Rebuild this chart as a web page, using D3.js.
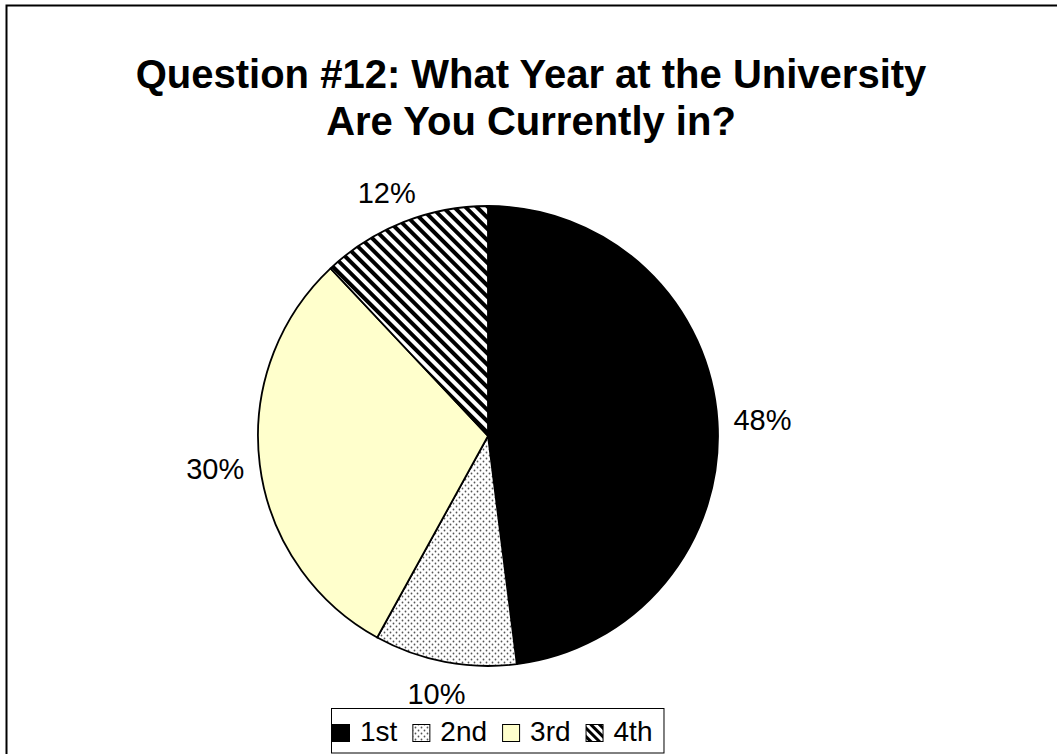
<!DOCTYPE html>
<html>
<head>
<meta charset="utf-8">
<script src="https://cdn.jsdelivr.net/npm/d3@7"></script>
<style>
  html, body { margin: 0; padding: 0; background: #fff; }
  svg { display: block; font-family: "Liberation Sans", Arial, sans-serif; }
</style>
</head>
<body>
<svg id="chart" width="1057" height="754"></svg>
<script>
// Survey responses: year at the university
const categories = ["1st", "2nd", "3rd", "4th"];
const values = [48, 10, 30, 12];
const labels = ["48%", "10%", "30%", "12%"];
const titleLines = ["Question #12: What Year at the University", "Are You Currently in?"];

const svg = d3.select("#chart");
const W = 1057, H = 754;

// Fill patterns
const defs = svg.append("defs");
const dots = defs.append("pattern")
  .attr("id", "dots").attr("patternUnits", "userSpaceOnUse")
  .attr("width", 6).attr("height", 6);
dots.append("rect").attr("width", 6).attr("height", 6).attr("fill", "#fff");
dots.append("circle").attr("cx", 1.5).attr("cy", 1.5).attr("r", 0.9).attr("fill", "#555");
dots.append("circle").attr("cx", 4.5).attr("cy", 4.5).attr("r", 0.9).attr("fill", "#555");

const stripes = defs.append("pattern")
  .attr("id", "stripes").attr("patternUnits", "userSpaceOnUse")
  .attr("width", 8).attr("height", 8)
  .attr("patternTransform", "rotate(-45)");
stripes.append("rect").attr("width", 8).attr("height", 8).attr("fill", "#fff");
stripes.append("rect").attr("width", 4).attr("height", 8).attr("fill", "#000");

const smallStripes = defs.append("pattern")
  .attr("id", "stripes-small").attr("patternUnits", "userSpaceOnUse")
  .attr("width", 6).attr("height", 6)
  .attr("patternTransform", "rotate(-45)");
smallStripes.append("rect").attr("width", 6).attr("height", 6).attr("fill", "#fff");
smallStripes.append("rect").attr("width", 3).attr("height", 6).attr("fill", "#000");

const fills = d3.scaleOrdinal()
  .domain(categories)
  .range(["#000000", "url(#dots)", "#FFFFCC", "url(#stripes)"]);
const legendFills = d3.scaleOrdinal()
  .domain(categories)
  .range(["#000000", "url(#dots)", "#FFFFCC", "url(#stripes-small)"]);

// Outer chart frame
svg.append("rect")
  .attr("x", 6.5).attr("y", 5.5)
  .attr("width", W + 10).attr("height", H + 10)
  .attr("fill", "#fff").attr("stroke", "#000").attr("stroke-width", 2);

// Title
svg.append("g").selectAll("text")
  .data(titleLines).join("text")
  .attr("x", 531).attr("y", (d, i) => 88 + i * 47)
  .attr("text-anchor", "middle")
  .attr("font-size", 40).attr("font-weight", "bold")
  .text(d => d);

// Pie
const cx = 488, cy = 436, r = 230;
const pie = d3.pie().sort(null).value(d => d.value);
const data = categories.map((c, i) => ({ cat: c, value: values[i], label: labels[i] }));
const arcs = pie(data);
const arc = d3.arc().innerRadius(0).outerRadius(r);

const g = svg.append("g").attr("transform", `translate(${cx},${cy})`);
g.selectAll("path").data(arcs).join("path")
  .attr("d", arc)
  .attr("fill", d => fills(d.data.cat))
  .attr("stroke", "#000").attr("stroke-width", 1.8)
  .attr("stroke-linejoin", "round");

// Percentage labels: text box pushed out from the rim along the mid-angle
const gap = 16;
const pct = g.selectAll("text.pct").data(arcs).join("text")
  .attr("class", "pct")
  .attr("text-anchor", "middle")
  .attr("dy", "0.35em")
  .attr("font-size", 29)
  .text(d => d.data.label);
pct.each(function(d) {
  const a = (d.startAngle + d.endAngle) / 2;
  const s = Math.sin(a), c = -Math.cos(a);
  const bb = this.getBBox();
  const x = (r + gap) * s + (bb.width / 2) * s;
  const y = (r + gap) * c + (bb.height / 2) * c;
  d3.select(this).attr("transform", `translate(${x},${y})`);
});

// Legend
const legend = svg.append("g");
const legendBox = legend.append("rect")
  .attr("x", 331.5).attr("y", 708.5).attr("height", 44.5)
  .attr("fill", "#fff").attr("stroke", "#000").attr("stroke-width", 1);
let lx = 332;
categories.forEach(c => {
  legend.append("rect")
    .attr("x", lx + 0.5).attr("y", 724.5).attr("width", 17).attr("height", 17)
    .attr("fill", legendFills(c)).attr("stroke", "#000").attr("stroke-width", 1);
  const t = legend.append("text")
    .attr("x", lx + 28).attr("y", 741)
    .attr("font-size", 28).text(c);
  lx += 28 + t.node().getComputedTextLength() + 15;
});
legendBox.attr("width", lx - 332 - 3);
</script>
</body>
</html>
